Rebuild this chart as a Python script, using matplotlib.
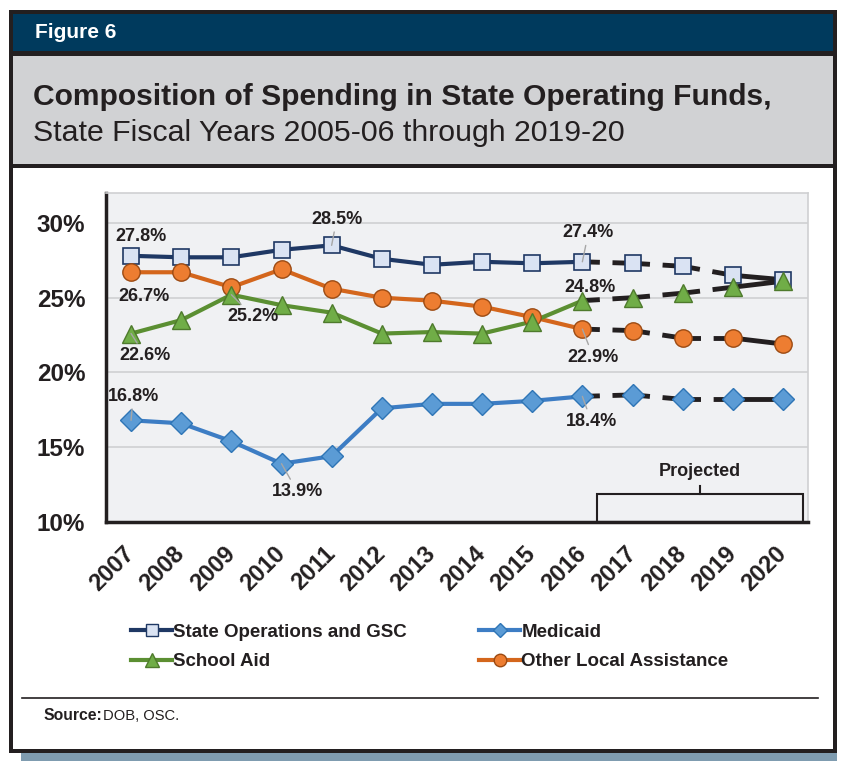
import numpy as np
import matplotlib.pyplot as plt
from matplotlib.patches import Rectangle
from matplotlib.lines import Line2D

plt.rcParams['font.family'] = ['Liberation Sans', 'DejaVu Sans']

years = ['2007', '2008', '2009', '2010', '2011', '2012', '2013',
         '2014', '2015', '2016', '2017', '2018', '2019', '2020']
state_ops = [27.8, 27.7, 27.7, 28.2, 28.5, 27.6, 27.2, 27.4, 27.3, 27.4, 27.3, 27.1, 26.5, 26.2]
school_aid = [22.6, 23.5, 25.2, 24.5, 24.0, 22.6, 22.7, 22.6, 23.4, 24.8, 25.0, 25.3, 25.7, 26.1]
medicaid = [16.8, 16.6, 15.4, 13.9, 14.4, 17.6, 17.9, 17.9, 18.1, 18.4, 18.5, 18.2, 18.2, 18.2]
other_local = [26.7, 26.7, 25.7, 26.9, 25.6, 25.0, 24.8, 24.4, 23.7, 22.9, 22.8, 22.3, 22.3, 21.9]
yticks = [10, 15, 20, 25, 30]
last_actual = 9  # 2016

W, H = 842, 761
fig = plt.figure(figsize=(W / 100, H / 100), dpi=100)


def box(x0, y0, x1, y1, **kw):
    # pixel coords, y measured from top
    fig.patches.append(Rectangle((x0 / W, 1 - y1 / H), (x1 - x0) / W, (y1 - y0) / H,
                                 transform=fig.transFigure, zorder=-10, **kw))


# frame, shadow, header and title band
box(21, 748, 837, 761, facecolor='#7f9cb0', edgecolor='none')
box(9, 10, 837, 753, facecolor='#231f20', edgecolor='none')
box(13, 14, 833, 749, facecolor='white', edgecolor='none')
box(13, 14, 833, 51, facecolor='#003a5d', edgecolor='none')
box(13, 51, 833, 56, facecolor='#231f20', edgecolor='none')
box(13, 56, 833, 164, facecolor='#d1d2d4', edgecolor='none')
box(13, 164, 833, 168, facecolor='#231f20', edgecolor='none')

fig.text(35 / W, 1 - 33 / H, 'Figure 6', color='white', fontsize=15, fontweight='bold',
         va='center')
fig.text(33 / W, 1 - 97 / H, 'Composition of Spending in State Operating Funds,',
         color='#231f20', fontsize=21.6, fontweight='bold', va='center')
fig.text(33 / W, 1 - 133 / H, 'State Fiscal Years 2005-06 through 2019-20',
         color='#231f20', fontsize=21.8, va='center')

# chart
ax = fig.add_axes([106 / W, 1 - 522 / H, 702 / W, 329 / H])
ax.set_facecolor('#f0f1f3')
x = np.arange(len(years))
n = len(years)

series = [
    (state_ops, '#1f3864', dict(marker='s', ms=11, mfc='#dae3f3', mec='#1f3864', mew=1.2)),
    (other_local, '#d4661c', dict(marker='o', ms=12.5, mfc='#ed7d31', mec='#9c4a12', mew=1.0)),
    (school_aid, '#5b8f32', dict(marker='^', ms=13, mfc='#70ad47', mec='#4e7a2c', mew=1.0)),
    (medicaid, '#3d7dc4', dict(marker='D', ms=11, mfc='#5b9bd5', mec='#2e75b6', mew=1.0)),
]
for vals, col, mk in series:
    ax.plot(x[:last_actual + 1], vals[:last_actual + 1], color=col, lw=3, zorder=3)
    # projection drawn segment by segment, the dash pattern restarting at each point
    for k in range(last_actual, n - 1):
        ls = (4.0, (7.6, 2.6)) if k < n - 2 else '-'
        ax.plot(x[k:k + 2], vals[k:k + 2], color='#231f20', lw=3.5, ls=ls,
                solid_capstyle='butt', dash_capstyle='butt', zorder=3)
    ax.plot(x, vals, ls='none', zorder=4, **mk)

ax.set_xlim(-0.5, n - 0.5)
ax.set_ylim(10, 32)
ax.set_yticks(yticks)
ax.set_yticklabels([f'{v}%' for v in yticks], fontsize=17.5, fontweight='bold', color='#231f20')
ax.set_xticks(x)
ax.set_xticklabels(years, fontsize=17, fontweight='bold', color='#231f20',
                   rotation=45, ha='right', va='center', rotation_mode='anchor')
ax.tick_params(axis='both', length=0)
ax.tick_params(axis='x', pad=20)
ax.tick_params(axis='y', pad=15)
ax.grid(axis='y', color='#cfd0d2', lw=1.2, zorder=0)
ax.set_axisbelow(True)
for s in ['top', 'right']:
    ax.spines[s].set_color('#cfd0d2')
    ax.spines[s].set_linewidth(1.2)
for s in ['left', 'bottom']:
    ax.spines[s].set_color('#231f20')
    ax.spines[s].set_linewidth(2.5)

# data labels (index, values, offset in pixels, leader line)
labels = [
    (0, state_ops, (10, 19), False),
    (4, state_ops, (5, 26), True),
    (9, state_ops, (6, 29), True),
    (0, other_local, (13, -24), False),
    (9, other_local, (11, -28), True),
    (0, school_aid, (14, -22), True),
    (2, school_aid, (22, -22), True),
    (9, school_aid, (8, 13), False),
    (0, medicaid, (2, 24), True),
    (3, medicaid, (16, -28), True),
    (9, medicaid, (9, -25), True),
]
for i, vals, off, leader in labels:
    ap = dict(arrowstyle='-', color='#a6a6a6', lw=1, shrinkA=1, shrinkB=0) if leader else None
    ax.annotate(f'{vals[i]:.1f}%', (x[i], vals[i]), xytext=off, textcoords='offset pixels',
                ha='center', va='center', fontsize=13, fontweight='bold', color='#231f20',
                arrowprops=ap, zorder=5)

# projected bracket
ax.add_patch(Rectangle((9.3, 10), 4.1, 1.87, facecolor='none', edgecolor='#231f20',
                       lw=1.5, zorder=5, clip_on=False))
ax.plot([11.35, 11.35], [11.87, 12.4], color='#231f20', lw=1.5, zorder=5)
ax.text(11.35, 13.35, 'Projected', ha='center', va='center', fontsize=13,
        fontweight='bold', color='#231f20')

# legend
handles = [
    Line2D([], [], color='#1f3864', lw=3, marker='s', ms=9, mfc='#dae3f3', mec='#1f3864'),
    Line2D([], [], color='#5b8f32', lw=3, marker='^', ms=10, mfc='#70ad47', mec='#4e7a2c'),
    Line2D([], [], color='#3d7dc4', lw=3, marker='D', ms=7, mfc='#5b9bd5', mec='#2e75b6'),
    Line2D([], [], color='#d4661c', lw=3, marker='o', ms=9, mfc='#ed7d31', mec='#9c4a12'),
]
names = ['State Operations and GSC', 'School Aid', 'Medicaid', 'Other Local Assistance']
leg = fig.legend(handles, names, ncol=2, loc='center left',
                 bbox_to_anchor=(131 / W, 1 - 647 / H), frameon=False,
                 prop=dict(size=13.5, weight='bold'), handlelength=2.2,
                 handletextpad=0.05, columnspacing=3.85, labelspacing=0.65,
                 borderpad=0, borderaxespad=0)
for t in leg.get_texts():
    t.set_color('#231f20')

# source
fig.add_artist(Line2D([22 / W, 818 / W], [1 - 698 / H, 1 - 698 / H], color='#231f20',
                      lw=1.2, transform=fig.transFigure))
fig.text(43 / W, 1 - 716 / H, 'Source:', fontsize=11.3, fontweight='bold', color='#231f20',
         va='center')
fig.text(103 / W, 1 - 716 / H, 'DOB, OSC.', fontsize=10.6, color='#231f20', va='center')

fig.savefig('out.png', dpi=100)
